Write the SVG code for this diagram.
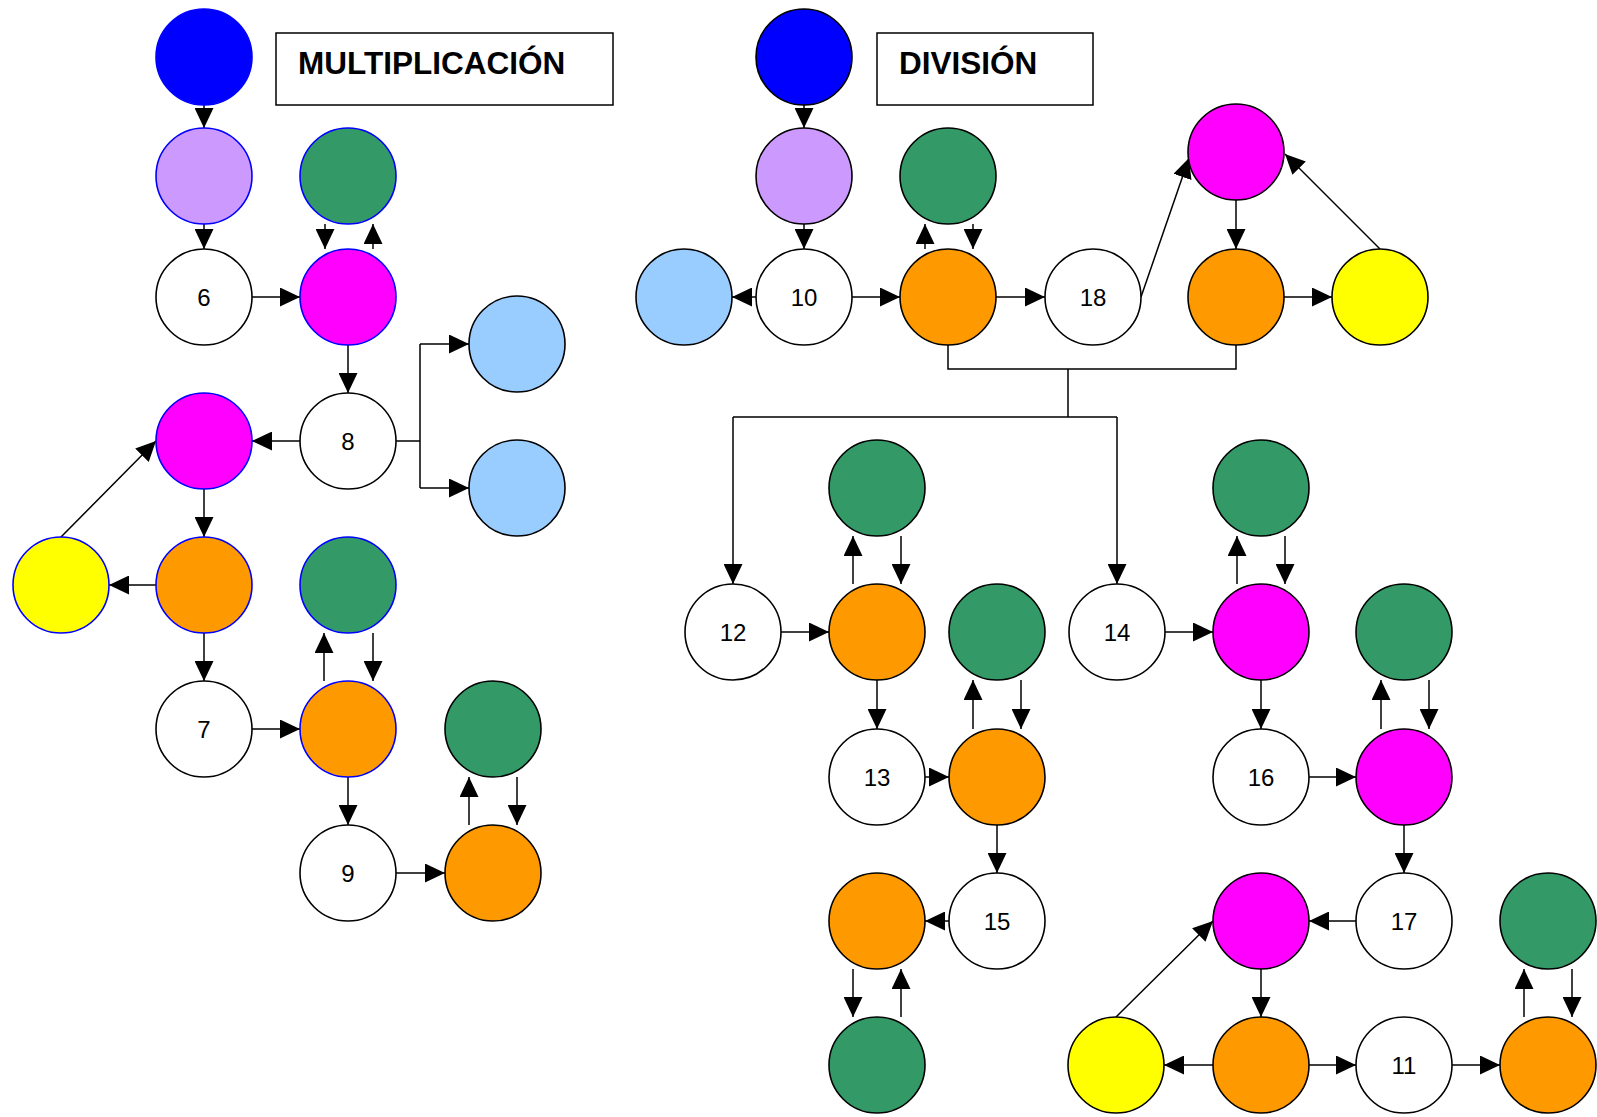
<svg xmlns="http://www.w3.org/2000/svg" width="1597" height="1117" viewBox="0 0 1597 1117">
<style>
circle{stroke-width:1.6}
.k{stroke:#000}
.b{stroke:#0000ff}
.blue{fill:#0000ff}
.lav{fill:#cc99ff}
.wh{fill:#ffffff}
.gr{fill:#339966}
.mg{fill:#ff00ff}
.lb{fill:#99ccff}
.ye{fill:#ffff00}
.or{fill:#ff9900}
.num{font-family:"Liberation Sans",Arial,sans-serif;font-size:24px;text-anchor:middle;fill:#000}
.title{font-family:"Liberation Sans",Arial,sans-serif;font-size:31.5px;font-weight:bold;fill:#000}
.box{fill:#fff;stroke:#000;stroke-width:1.5}
#connectors path{fill:none;stroke:#000;stroke-width:1.5}
#connectors path.a{marker-end:url(#ah)}
</style>
<defs>
<marker id="ah" markerUnits="userSpaceOnUse" markerWidth="20" markerHeight="19" refX="20" refY="9.5" orient="auto">
<path d="M0,0 L20,9.5 L0,19 z" fill="#000"/>
</marker>
</defs>
<rect width="1597" height="1117" fill="#fff"/>

<g id="connectors">
<!-- left -->
<path class="a" d="M204,105 V128"/>
<path class="a" d="M204,224 V249"/>
<path class="a" d="M252,297 H300"/>
<path class="a" d="M325,224 V249"/>
<path class="a" d="M373,249 V224"/>
<path class="a" d="M348,345 V393"/>
<path class="a" d="M300,441 H252"/>
<path d="M396,441 H420 M420,344 V488"/>
<path class="a" d="M420,344 H469"/>
<path class="a" d="M420,488 H469"/>
<path class="a" d="M61,537 L156,441"/>
<path class="a" d="M204,489 V537"/>
<path class="a" d="M156,585 H109"/>
<path class="a" d="M204,633 V681"/>
<path class="a" d="M252,729 H300"/>
<path class="a" d="M324,681 V633"/>
<path class="a" d="M373,633 V681"/>
<path class="a" d="M348,777 V825"/>
<path class="a" d="M396,873 H445"/>
<path class="a" d="M469,825 V777"/>
<path class="a" d="M517,777 V825"/>
<!-- right -->
<path class="a" d="M804,105 V128"/>
<path class="a" d="M804,224 V249"/>
<path class="a" d="M756,297 H732"/>
<path class="a" d="M852,297 H900"/>
<path class="a" d="M925,249 V224"/>
<path class="a" d="M973,224 V249"/>
<path class="a" d="M996,297 H1045"/>
<path class="a" d="M1141,297 L1189,158"/>
<path class="a" d="M1236,200 V249"/>
<path class="a" d="M1284,297 H1332"/>
<path class="a" d="M1380,249 L1285,154"/>
<path d="M948,345 V369 H1236 V345 M1068,369 V417 M733,417 H1117"/>
<path class="a" d="M733,417 V584"/>
<path class="a" d="M1117,417 V584"/>
<path class="a" d="M853,584 V536"/>
<path class="a" d="M901,536 V584"/>
<path class="a" d="M781,632 H829"/>
<path class="a" d="M877,680 V729"/>
<path class="a" d="M925,777 H949"/>
<path class="a" d="M973,729 V680"/>
<path class="a" d="M1021,680 V729"/>
<path class="a" d="M997,825 V873"/>
<path class="a" d="M949,921 H925"/>
<path class="a" d="M853,969 V1017"/>
<path class="a" d="M901,1017 V969"/>
<path class="a" d="M1165,632 H1213"/>
<path class="a" d="M1237,584 V536"/>
<path class="a" d="M1285,536 V584"/>
<path class="a" d="M1261,680 V729"/>
<path class="a" d="M1309,777 H1356"/>
<path class="a" d="M1381,729 V680"/>
<path class="a" d="M1429,680 V729"/>
<path class="a" d="M1404,825 V873"/>
<path class="a" d="M1356,921 H1309"/>
<path class="a" d="M1116,1017 L1213,921"/>
<path class="a" d="M1261,969 V1017"/>
<path class="a" d="M1213,1065 H1164"/>
<path class="a" d="M1309,1065 H1356"/>
<path class="a" d="M1452,1065 H1500"/>
<path class="a" d="M1524,1017 V969"/>
<path class="a" d="M1572,969 V1017"/>
</g>

<g id="title-mult"><rect class="box" x="276" y="33" width="337" height="72"/><text class="title" x="298" y="74">MULTIPLICACIÓN</text></g>
<g id="title-div"><rect class="box" x="877" y="33" width="216" height="72"/><text class="title" x="899" y="74">DIVISIÓN</text></g>

<!-- left nodes -->
<g id="B1"><circle class="blue b" cx="204" cy="57" r="48"/></g>
<g id="L1"><circle class="lav b" cx="204" cy="176" r="48"/></g>
<g id="N6"><circle class="wh k" cx="204" cy="297" r="48"/><text class="num" x="204" y="306">6</text></g>
<g id="G1"><circle class="gr b" cx="348" cy="176" r="48"/></g>
<g id="M1"><circle class="mg b" cx="348" cy="297" r="48"/></g>
<g id="N8"><circle class="wh k" cx="348" cy="441" r="48"/><text class="num" x="348" y="450">8</text></g>
<g id="M2"><circle class="mg b" cx="204" cy="441" r="48"/></g>
<g id="LB1"><circle class="lb k" cx="517" cy="344" r="48"/></g>
<g id="LB2"><circle class="lb k" cx="517" cy="488" r="48"/></g>
<g id="Y1"><circle class="ye b" cx="61" cy="585" r="48"/></g>
<g id="O1"><circle class="or b" cx="204" cy="585" r="48"/></g>
<g id="G2"><circle class="gr b" cx="348" cy="585" r="48"/></g>
<g id="N7"><circle class="wh k" cx="204" cy="729" r="48"/><text class="num" x="204" y="738">7</text></g>
<g id="O2"><circle class="or b" cx="348" cy="729" r="48"/></g>
<g id="G3"><circle class="gr k" cx="493" cy="729" r="48"/></g>
<g id="N9"><circle class="wh k" cx="348" cy="873" r="48"/><text class="num" x="348" y="882">9</text></g>
<g id="O3"><circle class="or k" cx="493" cy="873" r="48"/></g>

<!-- right nodes -->
<g id="B2"><circle class="blue k" cx="804" cy="57" r="48"/></g>
<g id="L2"><circle class="lav k" cx="804" cy="176" r="48"/></g>
<g id="G4"><circle class="gr k" cx="948" cy="176" r="48"/></g>
<g id="LB3"><circle class="lb k" cx="684" cy="297" r="48"/></g>
<g id="N10"><circle class="wh k" cx="804" cy="297" r="48"/><text class="num" x="804" y="306">10</text></g>
<g id="O4"><circle class="or k" cx="948" cy="297" r="48"/></g>
<g id="N18"><circle class="wh k" cx="1093" cy="297" r="48"/><text class="num" x="1093" y="306">18</text></g>
<g id="M3"><circle class="mg k" cx="1236" cy="152" r="48"/></g>
<g id="O5"><circle class="or k" cx="1236" cy="297" r="48"/></g>
<g id="Y2"><circle class="ye k" cx="1380" cy="297" r="48"/></g>
<g id="G5"><circle class="gr k" cx="877" cy="488" r="48"/></g>
<g id="N12"><circle class="wh k" cx="733" cy="632" r="48"/><text class="num" x="733" y="641">12</text></g>
<g id="O6"><circle class="or k" cx="877" cy="632" r="48"/></g>
<g id="G6"><circle class="gr k" cx="997" cy="632" r="48"/></g>
<g id="N13"><circle class="wh k" cx="877" cy="777" r="48"/><text class="num" x="877" y="786">13</text></g>
<g id="O7"><circle class="or k" cx="997" cy="777" r="48"/></g>
<g id="N15"><circle class="wh k" cx="997" cy="921" r="48"/><text class="num" x="997" y="930">15</text></g>
<g id="O8"><circle class="or k" cx="877" cy="921" r="48"/></g>
<g id="G7"><circle class="gr k" cx="877" cy="1065" r="48"/></g>
<g id="G8"><circle class="gr k" cx="1261" cy="488" r="48"/></g>
<g id="N14"><circle class="wh k" cx="1117" cy="632" r="48"/><text class="num" x="1117" y="641">14</text></g>
<g id="M4"><circle class="mg k" cx="1261" cy="632" r="48"/></g>
<g id="G9"><circle class="gr k" cx="1404" cy="632" r="48"/></g>
<g id="N16"><circle class="wh k" cx="1261" cy="777" r="48"/><text class="num" x="1261" y="786">16</text></g>
<g id="M5"><circle class="mg k" cx="1404" cy="777" r="48"/></g>
<g id="N17"><circle class="wh k" cx="1404" cy="921" r="48"/><text class="num" x="1404" y="930">17</text></g>
<g id="M6"><circle class="mg k" cx="1261" cy="921" r="48"/></g>
<g id="G10"><circle class="gr k" cx="1548" cy="921" r="48"/></g>
<g id="Y3"><circle class="ye k" cx="1116" cy="1065" r="48"/></g>
<g id="O9"><circle class="or k" cx="1261" cy="1065" r="48"/></g>
<g id="N11"><circle class="wh k" cx="1404" cy="1065" r="48"/><text class="num" x="1404" y="1074">11</text></g>
<g id="O10"><circle class="or k" cx="1548" cy="1065" r="48"/></g>
</svg>
